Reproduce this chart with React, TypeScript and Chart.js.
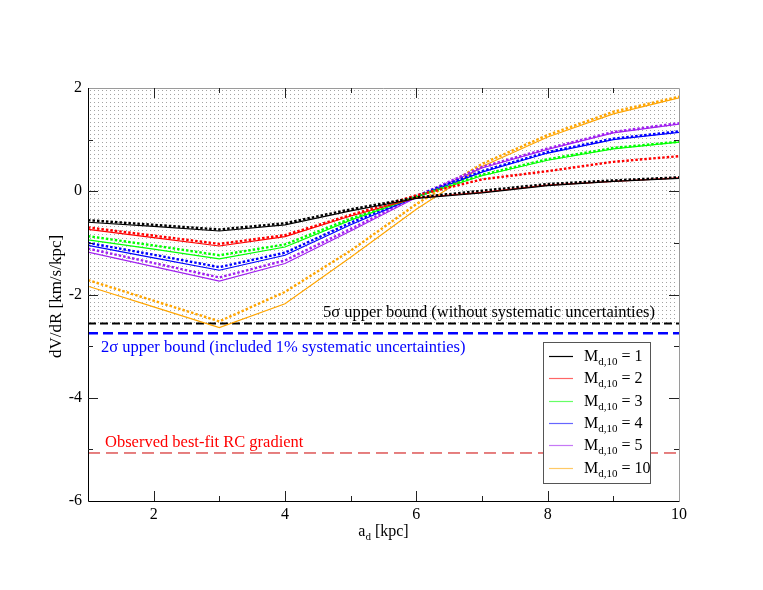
import React, { useEffect, useRef } from "react";
import { Chart, registerables } from "chart.js";

Chart.register(...registerables);

const xValues = [1, 2, 3, 4, 5, 6, 7, 8, 9, 10];

const blackSolid = [-0.6, -0.68, -0.77, -0.65, -0.38, -0.14, -0.03, 0.11, 0.19, 0.25];
const blackDotted = [-0.56, -0.65, -0.74, -0.62, -0.35, -0.12, 0.01, 0.14, 0.21, 0.27];
const redSolid = [-0.74, -0.9, -1.06, -0.88, -0.48, -0.13, -0.02, 0.12, 0.19, 0.26];
const redDotted = [-0.7, -0.86, -1.02, -0.85, -0.46, -0.08, 0.23, 0.39, 0.57, 0.68];
const greenSolid = [-0.94, -1.12, -1.31, -1.08, -0.56, -0.11, 0.3, 0.6, 0.82, 0.95];
const greenDotted = [-0.87, -1.05, -1.24, -1.03, -0.53, -0.1, 0.32, 0.62, 0.84, 0.96];
const blueSolid = [-1.05, -1.29, -1.53, -1.24, -0.65, -0.11, 0.37, 0.74, 1.0, 1.14];
const blueDotted = [-1.0, -1.23, -1.47, -1.19, -0.61, -0.09, 0.39, 0.76, 1.02, 1.16];
const purpleSolid = [-1.18, -1.46, -1.74, -1.4, -0.77, -0.12, 0.45, 0.81, 1.13, 1.3];
const purpleDotted = [-1.11, -1.39, -1.67, -1.34, -0.73, -0.1, 0.47, 0.83, 1.15, 1.32];
const orangeSolid = [-1.84, -2.24, -2.64, -2.18, -1.28, -0.35, 0.48, 1.05, 1.5, 1.81];
const orangeDotted = [-1.72, -2.12, -2.52, -1.95, -1.15, -0.25, 0.53, 1.09, 1.54, 1.83];

const legendLabels = ["1", "2", "3", "4", "5", "10"];
const seriesColors = ["#000000", "#ff0000", "#00ff00", "#0000ff", "#a020f0", "#ffa500"];

const bound5Sigma = -2.56;
const bound2Sigma = -2.75;
const observedGradient = -5.07;

const xTickValues = [1, 2, 3, 4, 5, 6, 7, 8, 9, 10];
const yTickValues = [-6, -5, -4, -3, -2, -1, 0, 1, 2];

const SERIF = "'Liberation Serif', 'DejaVu Serif', serif";

function pts(ys: number[]) {
  return ys.map((y, i) => ({ x: xValues[i], y }));
}

const overlayPlugin = {
  id: "overlay",
  beforeDatasetsDraw(chart: any) {
    const { ctx, chartArea, scales } = chart;
    const yTop = scales.y.getPixelForValue(2);
    const yBot = scales.y.getPixelForValue(bound5Sigma);
    ctx.save();
    ctx.fillStyle = "rgba(0,0,0,0.36)";
    for (let y = Math.round(yTop) + 2; y < yBot - 1; y += 4) {
      for (let x = Math.round(chartArea.left) + 2; x < chartArea.right - 1; x += 4) {
        ctx.fillRect(x, y, 1, 1);
      }
    }
    ctx.restore();
  },
  afterDraw(chart: any) {
    const { ctx, chartArea, scales } = chart;
    const { left, right, top, bottom } = chartArea;
    ctx.save();
    // frame
    ctx.strokeStyle = "#9a9a9a";
    ctx.lineWidth = 1;
    ctx.beginPath();
    ctx.moveTo(left, top + 0.5);
    ctx.lineTo(right + 0.5, top + 0.5);
    ctx.lineTo(right + 0.5, bottom);
    ctx.stroke();
    ctx.strokeStyle = "#000";
    ctx.beginPath();
    ctx.moveTo(left + 0.5, top);
    ctx.lineTo(left + 0.5, bottom + 0.5);
    ctx.lineTo(right + 0.5, bottom + 0.5);
    ctx.stroke();
    // ticks
    ctx.strokeStyle = "#222";
    ctx.beginPath();
    xTickValues.forEach((v) => {
      if (v === 1 || v === 10) return;
      const px = Math.round(scales.x.getPixelForValue(v)) + 0.5;
      const len = v % 2 === 0 ? 10 : 5;
      ctx.moveTo(px, bottom);
      ctx.lineTo(px, bottom - len);
      ctx.moveTo(px, top);
      ctx.lineTo(px, top + len);
    });
    yTickValues.forEach((v) => {
      if (v === -6 || v === 2) return;
      const py = Math.round(scales.y.getPixelForValue(v)) + 0.5;
      const len = v % 2 === 0 ? 10 : 5;
      ctx.moveTo(left, py);
      ctx.lineTo(left + len, py);
      ctx.moveTo(right, py);
      ctx.lineTo(right - len, py);
    });
    ctx.stroke();

    // annotation texts
    ctx.font = `16.5px ${SERIF}`;
    ctx.textBaseline = "alphabetic";
    ctx.textAlign = "left";
    ctx.fillStyle = "#000";
    ctx.fillText("5σ upper bound (without systematic uncertainties)", 323, scales.y.getPixelForValue(bound5Sigma) - 6);
    ctx.fillStyle = "#0000ff";
    ctx.fillText("2σ upper bound (included 1% systematic uncertainties)", 101, scales.y.getPixelForValue(bound2Sigma) + 19);
    ctx.fillStyle = "#ff0000";
    ctx.fillText("Observed best-fit RC gradient", 105, scales.y.getPixelForValue(observedGradient) - 6);

    // legend
    const bx = 543, by = 342, bw = 107, bh = 141;
    ctx.fillStyle = "#fff";
    ctx.fillRect(bx, by, bw, bh);
    ctx.strokeStyle = "#555";
    ctx.lineWidth = 1;
    ctx.strokeRect(bx + 0.5, by + 0.5, bw, bh);
    legendLabels.forEach((lab, i) => {
      const cy = by + 14 + i * 22.3;
      ctx.strokeStyle = seriesColors[i];
      ctx.globalAlpha = i === 0 ? 1 : 0.6;
      ctx.lineWidth = 1.2;
      ctx.beginPath();
      ctx.moveTo(549, Math.round(cy) + 0.5);
      ctx.lineTo(573, Math.round(cy) + 0.5);
      ctx.stroke();
      ctx.globalAlpha = 1;
      ctx.fillStyle = "#000";
      ctx.font = `16px ${SERIF}`;
      const base = cy + 5;
      ctx.fillText("M", 584, base);
      const mw = ctx.measureText("M").width;
      ctx.font = `11px ${SERIF}`;
      ctx.fillText("d,10", 584 + mw, base + 4);
      const sw = ctx.measureText("d,10").width;
      ctx.font = `16px ${SERIF}`;
      ctx.fillText(" = " + lab, 584 + mw + sw, base);
    });

    // axis titles
    ctx.fillStyle = "#000";
    ctx.font = `16px ${SERIF}`;
    const xt = "a";
    const xt2 = " [kpc]";
    const w1 = ctx.measureText(xt).width;
    const w3 = ctx.measureText(xt2).width;
    ctx.font = `11px ${SERIF}`;
    const w2 = ctx.measureText("d").width;
    const total = w1 + w2 + w3;
    const cx = (left + right) / 2;
    const sx = cx - total / 2;
    const xb = 536;
    ctx.font = `16px ${SERIF}`;
    ctx.fillText(xt, sx, xb);
    ctx.font = `11px ${SERIF}`;
    ctx.fillText("d", sx + w1, xb + 4);
    ctx.font = `16px ${SERIF}`;
    ctx.fillText(xt2, sx + w1 + w2, xb);

    ctx.translate(61, (top + bottom) / 2 + 2);
    ctx.rotate(-Math.PI / 2);
    ctx.textAlign = "center";
    ctx.font = `17px ${SERIF}`;
    ctx.fillText("dV/dR [km/s/kpc]", 0, 0);
    ctx.restore();
  },
};

export default function App() {
  const ref = useRef<HTMLCanvasElement | null>(null);
  useEffect(() => {
    document.body.style.margin = "0";
    const canvas = ref.current!;
    const curveSets = [
      [blackSolid, blackDotted],
      [redSolid, redDotted],
      [greenSolid, greenDotted],
      [blueSolid, blueDotted],
      [purpleSolid, purpleDotted],
      [orangeSolid, orangeDotted],
    ];
    const datasets: any[] = [];
    curveSets.forEach((pair, i) => {
      datasets.push({
        label: "M_d,10 = " + legendLabels[i],
        data: pts(pair[0]),
        borderColor: seriesColors[i],
        borderWidth: 1.2,
        pointRadius: 0,
        tension: 0,
        fill: false,
      });
      datasets.push({
        label: "M_d,10 = " + legendLabels[i] + " (dotted)",
        data: pts(pair[1]),
        borderColor: seriesColors[i],
        borderWidth: 2.4,
        borderDash: [2.5, 2],
        pointRadius: 0,
        tension: 0,
        fill: false,
      });
    });
    datasets.push({
      label: "5σ",
      data: [{ x: 1, y: bound5Sigma }, { x: 10, y: bound5Sigma }],
      borderColor: "#000",
      borderWidth: 2,
      borderDash: [8, 4],
      pointRadius: 0,
    });
    datasets.push({
      label: "2σ",
      data: [{ x: 1, y: bound2Sigma }, { x: 10, y: bound2Sigma }],
      borderColor: "#0000ff",
      borderWidth: 2.5,
      borderDash: [10, 5],
      pointRadius: 0,
    });
    datasets.push({
      label: "observed",
      data: [{ x: 1, y: observedGradient }, { x: 10, y: observedGradient }],
      borderColor: "#cc0000",
      borderWidth: 1,
      borderDash: [12, 6],
      pointRadius: 0,
    });

    const chart = new Chart(canvas, {
      type: "line",
      data: { datasets },
      options: {
        animation: false,
        responsive: false,
        devicePixelRatio: 1,
        layout: { padding: { left: 8, top: 88, right: 84, bottom: 49 } },
        plugins: { legend: { display: false }, tooltip: { enabled: false } },
        scales: {
          x: {
            type: "linear",
            min: 1,
            max: 10,
            afterFit: (s: any) => {
              s.height = 40;
            },
            grid: { display: false, drawTicks: false },
            border: { display: false },
            ticks: {
              stepSize: 1,
              autoSkip: false,
              maxRotation: 0,
              padding: 4,
              color: "#000",
              font: { family: SERIF, size: 16 },
              callback: (v: any) => (Number(v) % 2 === 0 ? String(v) : ""),
            },
          },
          y: {
            type: "linear",
            min: -6,
            max: 2,
            afterFit: (s: any) => {
              s.width = 80;
            },
            grid: { display: false, drawTicks: false },
            border: { display: false },
            ticks: {
              stepSize: 1,
              autoSkip: false,
              padding: 6,
              color: "#000",
              font: { family: SERIF, size: 16 },
              callback: (v: any) => (Number(v) % 2 === 0 ? String(v) : ""),
            },
          },
        },
      },
      plugins: [overlayPlugin],
    });
    return () => chart.destroy();
  }, []);
  return (
    <canvas
      ref={ref}
      width={763}
      height={590}
      style={{ display: "block", width: 763, height: 590 }}
    />
  );
}
